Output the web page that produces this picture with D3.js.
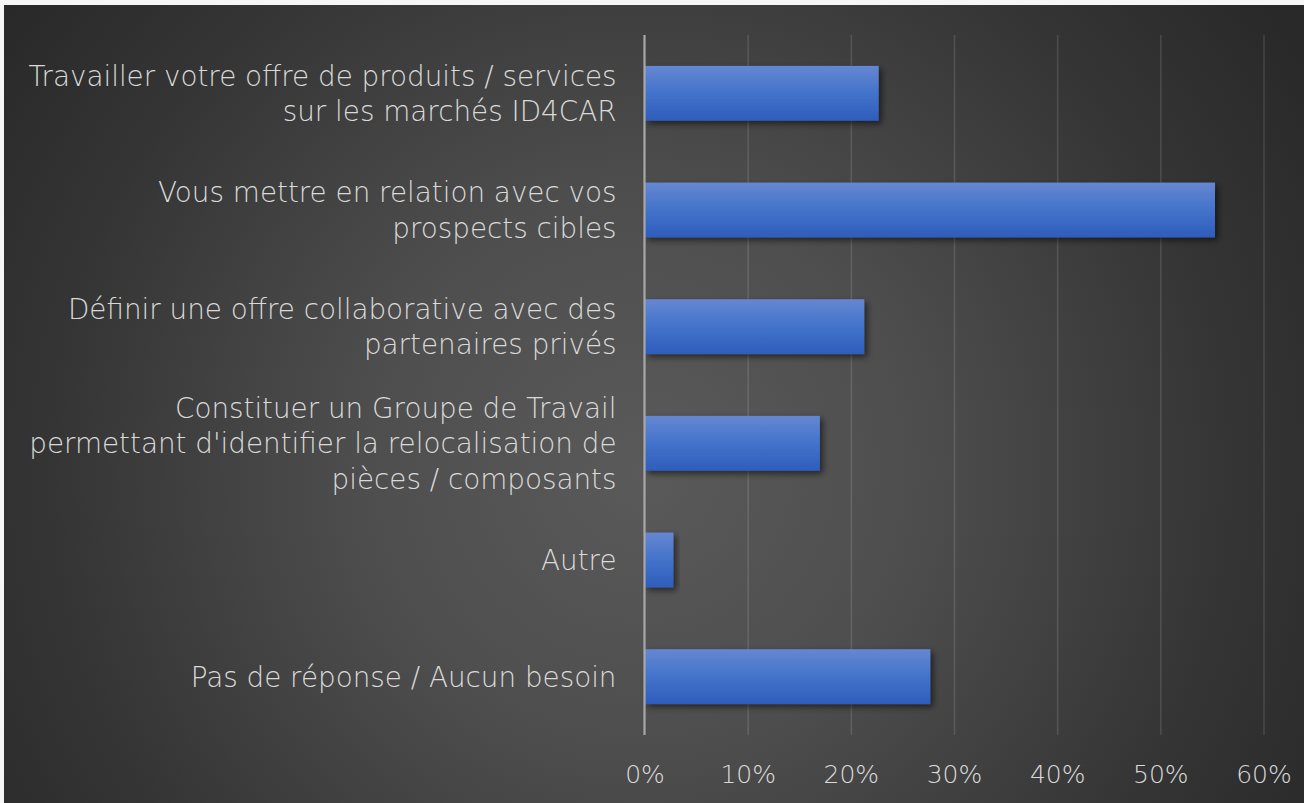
<!DOCTYPE html>
<html><head><meta charset="utf-8">
<script src="https://cdn.jsdelivr.net/npm/d3@7"></script>
<style>html,body{margin:0;padding:0;background:#ffffff;overflow:hidden}</style>
</head><body>
<svg id="chart" width="1304" height="803"></svg>
<script>
const categories = [
  "Travailler votre offre de produits / services\nsur les marchés ID4CAR",
  "Vous mettre en relation avec vos\nprospects cibles",
  "Définir une offre collaborative avec des\npartenaires privés",
  "Constituer un Groupe de Travail\npermettant d'identifier la relocalisation de\npièces / composants",
  "Autre",
  "Pas de réponse / Aucun besoin"
];
const values = [0.227, 0.553, 0.213, 0.170, 0.028, 0.277];
const tickValues = [0, 0.1, 0.2, 0.3, 0.4, 0.5, 0.6];
const tickLabels = ["0%", "10%", "20%", "30%", "40%", "50%", "60%"];

const W = 1304, H = 803;
const svg = d3.select("#chart");
const defs = svg.append("defs");

const bg = defs.append("radialGradient").attr("id","bg")
  .attr("gradientUnits","userSpaceOnUse").attr("cx",640).attr("cy",470).attr("r",780);
bg.append("stop").attr("offset","0").attr("stop-color","#5a5a5a");
bg.append("stop").attr("offset","0.35").attr("stop-color","#4e4e4e");
bg.append("stop").attr("offset","0.75").attr("stop-color","#353535");
bg.append("stop").attr("offset","1").attr("stop-color","#292929");

const bar = defs.append("linearGradient").attr("id","bar").attr("x1",0).attr("y1",0).attr("x2",0).attr("y2",1);
bar.append("stop").attr("offset","0").attr("stop-color","#6587d2");
bar.append("stop").attr("offset","0.5").attr("stop-color","#4373ca");
bar.append("stop").attr("offset","1").attr("stop-color","#2e5dbb");

const sh = defs.append("filter").attr("id","shadow").attr("x","-10%").attr("y","-20%").attr("width","130%").attr("height","160%");
sh.append("feDropShadow").attr("dx",3).attr("dy",3).attr("stdDeviation",3).attr("flood-color","#000").attr("flood-opacity",0.55);

svg.append("rect").attr("x",0).attr("y",0).attr("width",W).attr("height",H).attr("fill","#f6f6f6");
svg.append("rect").attr("x",4).attr("y",5).attr("width",W-4).attr("height",H-5).attr("fill","url(#bg)");

const x = d3.scaleLinear().domain([0, 0.6]).range([644.5, 1263.5]);
const y = d3.scaleBand().domain(categories).range([35, 735]).paddingInner(0.53).paddingOuter(0.265);

const font = "'DejaVu Sans', 'Open Sans', sans-serif";
const textColor = "#dadada";
const fs = 27.8;
const fsTick = 25;

// gridlines
const grid = svg.append("g").attr("transform","translate(0,735)")
  .call(d3.axisBottom(x).tickValues(tickValues.slice(1)).tickSize(-700).tickFormat(""));
grid.select(".domain").remove();
grid.selectAll("line").attr("stroke","rgba(255,255,255,0.12)").attr("stroke-width",1.6);

// bars
svg.append("g").selectAll("rect").data(values).join("rect")
  .attr("x", x(0))
  .attr("y", (d,i) => y(categories[i]))
  .attr("width", d => x(d) - x(0))
  .attr("height", y.bandwidth())
  .attr("fill","url(#bar)")
  .attr("filter","url(#shadow)");

// zero axis line
svg.append("line").attr("x1",x(0)).attr("x2",x(0)).attr("y1",35).attr("y2",735)
  .attr("stroke","#a8a8a8").attr("stroke-width",2.2);

// x tick labels
const xa = svg.append("g").attr("transform","translate(0,735)")
  .call(d3.axisBottom(x).tickValues(tickValues).tickSize(0)
    .tickFormat((d,i) => tickLabels[i]));
xa.select(".domain").remove();
xa.selectAll("text").attr("fill",textColor).attr("font-family",font).attr("font-size",fsTick)
  .attr("font-weight",300).attr("y",48).attr("dy","0");

// category labels
const ya = svg.append("g").attr("transform",`translate(${x(0)},0)`)
  .call(d3.axisLeft(y).tickSize(0).tickPadding(28));
ya.select(".domain").remove();
ya.selectAll("text").each(function(d) {
  const t = d3.select(this);
  const lines = d.split("\n");
  t.text(null).attr("fill",textColor).attr("font-family",font).attr("font-size",fs)
   .attr("font-weight",300).attr("dy",null).attr("text-anchor","end");
  const lh = 35.5;
  const off = -(lines.length - 1) / 2 * lh;
  lines.forEach((ln, i) => {
    t.append("tspan").attr("x", -28).attr("y", off + i * lh).attr("dy","0.36em").text(ln);
  });
});
</script>
</body></html>
